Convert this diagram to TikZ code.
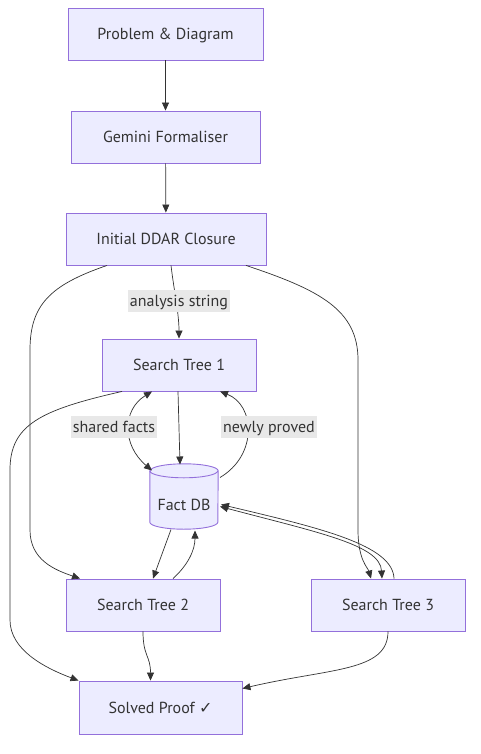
\documentclass[tikz,border=0pt]{standalone}
\usepackage{fontspec}
\setmainfont{PT Sans}
\newfontfamily\symfont{DejaVu Sans}
\usetikzlibrary{arrows.meta}
\definecolor{boxfill}{HTML}{ECECFF}
\definecolor{boxline}{HTML}{9370DB}
\definecolor{edgecol}{HTML}{333333}
\definecolor{lblbg}{HTML}{E8E8E8}
\definecolor{txtcol}{HTML}{333333}
\begin{document}
\begin{tikzpicture}[x=1pt,y=1pt,>={Triangle[length=8pt,width=7pt]},font=\fontsize{16}{19}\selectfont,
    box/.style={draw=boxline,fill=boxfill,line width=0.9pt,minimum height=52pt,inner sep=0pt,text=txtcol,text depth=0pt},
    lbl/.style={fill=lblbg,inner xsep=2pt,inner ysep=0pt,minimum height=22pt,text=txtcol,text depth=0pt},
    link/.style={draw=edgecol,line width=0.7pt,->}]
    \useasboundingbox (0,0) rectangle (481,-754);
    % boxes
    \node[box,minimum width=195pt] (prob) at (165.5,-34) {Problem \& Diagram};
    \node[box,minimum width=189pt] (gem) at (165.5,-137) {Gemini Formaliser};
    \node[box,minimum width=200pt] (ddar) at (166,-239) {Initial DDAR Closure};
    \node[box,minimum width=154pt] (st1) at (179,-365) {Search Tree 1};
    \node[box,minimum width=154pt] (st2) at (143,-605) {Search Tree 2};
    \node[box,minimum width=154pt] (st3) at (388,-605) {Search Tree 3};
    \node[box,minimum width=163pt,minimum height=53pt] (solved) at (160.5,-707.5) {Solved Proof {\symfont ✓}};
    % fact store (cylinder)
    \node[minimum width=68pt,minimum height=65pt,inner sep=0pt] (db) at (184,-496.5) {};
    \draw[draw=boxline,fill=boxfill,line width=0.9pt] ([yshift=-7pt]db.north west) -- ([yshift=7pt]db.south west)
        arc[start angle=180,end angle=360,x radius=34pt,y radius=7pt] -- ([yshift=-7pt]db.north east)
        arc[start angle=0,end angle=180,x radius=34pt,y radius=7pt] -- cycle;
    \draw[draw=boxline,line width=0.9pt] ([yshift=-7pt]db.north west) arc[start angle=180,end angle=360,x radius=34pt,y radius=7pt];
    \node[text=txtcol,text depth=0pt] (dbtext) at ([yshift=-8pt]db.center) {Fact DB};
    % links
    \draw[link] (prob) -- (gem);
    \draw[link] (gem) -- (ddar);
    \draw[link] ([xshift=5pt]ddar.south) .. controls +(3,-25) and +(0,25) .. (st1.north);
    \draw[link] ([xshift=-59pt]ddar.south) .. controls (50,-285) and (30,-305) .. (30,-350)
        -- (30,-530) .. controls (30,-560) and (55,-570) .. ([xshift=-63pt]st2.north);
    \draw[link] ([xshift=80pt]ddar.south) .. controls (320,-290) and (358,-310) .. (358,-360)
        -- (358,-530) .. controls (358,-560) and (368,-568) .. ([xshift=-17pt]st3.north);
    \draw[link] ([xshift=-57pt]st1.south) .. controls (40,-410) and (10,-425) .. (10,-470)
        -- (10,-620) .. controls (10,-650) and (45,-668) .. (solved.north west);
    \draw[link,<->] ([xshift=-27pt]st1.south) .. controls (122,-410) and (122,-445) .. ([shift={(-32pt,26pt)}]db.center);
    \draw[link] ([xshift=-1pt]st1.south) -- ([shift={(-4pt,32pt)}]db.center);
    \draw[link] ([shift={(36pt,19pt)}]db.center) .. controls (258,-455) and (255,-405) .. ([xshift=41pt]st1.south);
    \draw[link] ([shift={(-13pt,-33pt)}]db.center) -- ([xshift=10pt]st2.north);
    \draw[link] ([xshift=30pt]st2.north) .. controls (188,-565) and (195,-550) .. ([shift={(11pt,-34pt)}]db.center);
    \draw[link,<->] ([shift={(36pt,-10pt)}]db.center) .. controls (320,-533) and (380,-545) .. ([xshift=-6pt]st3.north);
    \draw[link] ([xshift=6pt]st3.north) .. controls (393,-545) and (320,-528) .. ([shift={(37pt,-8pt)}]db.center);
    \draw[link] (st2.south) .. controls +(0,-25) and +(0,25) .. ([xshift=-10pt]solved.north);
    \draw[link] (st3.south) .. controls (388,-672) and (330,-668) .. ([yshift=19pt]solved.east);
    % labels
    \node[lbl] (lanalysis) at (179,-301) {analysis string};
    \node[lbl] (lshared) at (114,-427) {shared facts};
    \node[lbl] (lnewly) at (269,-427) {newly proved};
\end{tikzpicture}
\end{document}
